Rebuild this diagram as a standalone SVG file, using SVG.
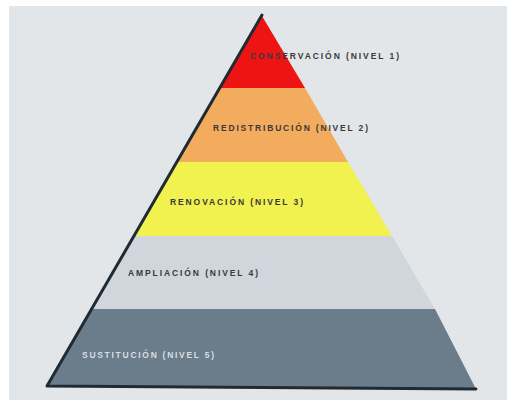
<svg xmlns="http://www.w3.org/2000/svg" width="507" height="406" viewBox="0 0 507 406">
  <style>
    .lbl { font-family: "Liberation Sans", Arial, sans-serif; font-size: 8.5px; font-weight: bold; fill: #3a3a3a; }
    .lbl-light { fill: #d9dee3; }
  </style>
  <rect x="0" y="0" width="507" height="406" fill="#ffffff"/>
  <rect x="9" y="6" width="498" height="394" fill="#e3e6e8"/>

  <g id="nivel1">
    <polygon points="262,16 305,88 220,88" fill="#ee1414"/>
    <text class="lbl" x="250" y="58.5" textLength="149" lengthAdjust="spacing">CONSERVACIÓN (NIVEL 1)</text>
  </g>
  <g id="nivel2">
    <polygon points="220,88 305,88 348,162 177,162" fill="#f3ab5d"/>
    <text class="lbl" x="213" y="130.5" textLength="155" lengthAdjust="spacing">REDISTRIBUCIÓN (NIVEL 2)</text>
  </g>
  <g id="nivel3">
    <polygon points="177,162 348,162 392,236 134,236" fill="#f1f14f"/>
    <text class="lbl" x="170" y="205" textLength="133" lengthAdjust="spacing">RENOVACIÓN (NIVEL 3)</text>
  </g>
  <g id="nivel4">
    <polygon points="134,236 392,236 435,309 92,309" fill="#d0d6dc"/>
    <text class="lbl" x="128" y="276" textLength="130" lengthAdjust="spacing">AMPLIACIÓN (NIVEL 4)</text>
  </g>
  <g id="nivel5">
    <polygon points="92,309 435,309 476,389 47,386" fill="#6b7c8a"/>
    <text class="lbl lbl-light" x="82" y="357.5" textLength="132" lengthAdjust="spacing">SUSTITUCIÓN (NIVEL 5)</text>
  </g>

  <g id="outline">
    <polyline points="262,15 47,386 476,389" fill="none" stroke="#1f2a33" stroke-width="3" stroke-linejoin="round" stroke-linecap="round"/>
  </g>
</svg>
